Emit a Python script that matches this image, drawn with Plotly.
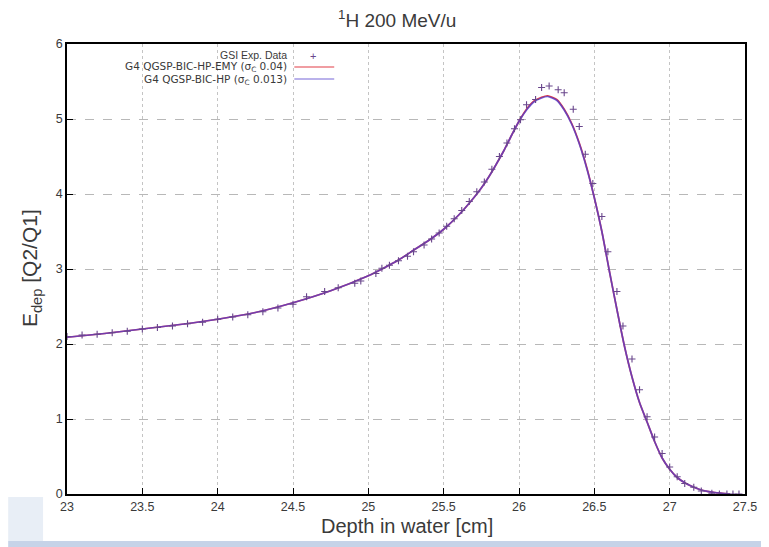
import plotly.graph_objects as go

# ---- data ----
exp_depth = [23.0, 23.1, 23.2, 23.3, 23.4, 23.5, 23.6, 23.7, 23.8, 23.9,
             24.0, 24.1, 24.2, 24.3, 24.4, 24.5, 24.59, 24.71, 24.80, 24.91,
             24.95, 25.05, 25.09, 25.14, 25.20, 25.26, 25.30, 25.37, 25.42, 25.47,
             25.52, 25.57, 25.62, 25.67, 25.72, 25.77, 25.82, 25.87, 25.92, 25.97,
             26.01, 26.05, 26.11, 26.15, 26.20, 26.26, 26.30, 26.36, 26.40, 26.44,
             26.49, 26.55, 26.59, 26.65, 26.69, 26.75, 26.80, 26.85, 26.90, 26.95,
             27.00, 27.05, 27.10, 27.16, 27.21, 27.28, 27.33, 27.38, 27.42, 27.46]
exp_edep = [2.10, 2.12, 2.13, 2.15, 2.17, 2.20, 2.22, 2.24, 2.27, 2.29,
            2.33, 2.36, 2.39, 2.43, 2.48, 2.53, 2.63, 2.70, 2.75, 2.81,
            2.84, 2.94, 3.01, 3.05, 3.11, 3.17, 3.23, 3.32, 3.40, 3.48,
            3.57, 3.67, 3.78, 3.90, 4.03, 4.16, 4.33, 4.50, 4.68, 4.87,
            4.99, 5.19, 5.26, 5.42, 5.44, 5.39, 5.35, 5.13, 4.90, 4.53,
            4.14, 3.70, 3.23, 2.70, 2.24, 1.80, 1.39, 1.03, 0.76, 0.54,
            0.36, 0.23, 0.14, 0.09, 0.04, 0.01, 0.0, 0.0, 0.0, 0.0]

sim_depth = [23.0, 23.25, 23.5, 23.75, 24.0, 24.25, 24.5, 24.75, 25.0, 25.1,
             25.2, 25.3, 25.4, 25.5, 25.6, 25.7, 25.75, 25.8, 25.85, 25.9,
             25.95, 26.0, 26.05, 26.1, 26.15, 26.19, 26.25, 26.3, 26.35, 26.4,
             26.45, 26.5, 26.55, 26.6, 26.65, 26.7, 26.75, 26.8, 26.85, 26.9,
             26.95, 27.0, 27.05, 27.1, 27.15, 27.2, 27.25, 27.3, 27.35, 27.4]
emy_edep = [2.09, 2.14, 2.20, 2.26, 2.33, 2.42, 2.55, 2.71, 2.91, 3.01,
            3.12, 3.25, 3.38, 3.53, 3.72, 3.95, 4.08, 4.23, 4.40, 4.58,
            4.78, 4.97, 5.13, 5.24, 5.29, 5.31, 5.26, 5.13, 4.94, 4.68,
            4.35, 3.95, 3.50, 2.97, 2.46, 1.97, 1.56, 1.22, 0.96, 0.70,
            0.48, 0.33, 0.22, 0.15, 0.10, 0.06, 0.035, 0.02, 0.01, 0.0]
hp_edep = [2.09, 2.14, 2.20, 2.26, 2.33, 2.42, 2.55, 2.71, 2.91, 3.01,
           3.12, 3.25, 3.38, 3.53, 3.72, 3.95, 4.08, 4.23, 4.40, 4.58,
           4.78, 4.97, 5.12, 5.23, 5.28, 5.30, 5.25, 5.12, 4.93, 4.67,
           4.34, 3.95, 3.50, 2.97, 2.46, 1.97, 1.56, 1.22, 0.96, 0.70,
           0.48, 0.33, 0.22, 0.15, 0.10, 0.06, 0.035, 0.02, 0.01, 0.0]

x_ticks = [23, 23.5, 24, 24.5, 25, 25.5, 26, 26.5, 27, 27.5]
x_tick_labels = ["23", "23.5", "24", "24.5", "25", "25.5", "26", "26.5", "27", "27.5"]
y_ticks = [0, 1, 2, 3, 4, 5, 6]
y_tick_labels = ["0", "1", "2", "3", "4", "5", "6"]

series_names = ["GSI Exp. Data",
                "G4 QGSP-BIC-HP-EMY (σ<sub>C</sub> 0.04)",
                "G4 QGSP-BIC-HP (σ<sub>C</sub> 0.013)"]

RED = "rgb(225,60,70)"
BLUE = "rgba(80,60,205,0.78)"
MARK = "rgb(105,70,140)"
FONT = "Liberation Sans, Arial, sans-serif"
LFONT = "DejaVu Sans, Liberation Sans, sans-serif"
TXT = "#3a3a3a"

fig = go.Figure()
fig.add_trace(go.Scatter(x=sim_depth, y=emy_edep, mode="lines", name=series_names[1],
                         line=dict(color=RED, width=1.7, shape="spline", smoothing=0.6)))
fig.add_trace(go.Scatter(x=sim_depth, y=hp_edep, mode="lines", name=series_names[2],
                         line=dict(color=BLUE, width=1.7, shape="spline", smoothing=0.6)))
fig.add_trace(go.Scatter(x=exp_depth, y=exp_edep, mode="markers", name=series_names[0],
                         marker=dict(symbol="cross-thin", size=5,
                                     line=dict(color=MARK, width=1.1), color=MARK)))

# page body has an 8px margin: figure drawn 8px in from the window's top-left
OFF = 8
WIN_W, WIN_H = 769, 547
W, H = WIN_W - OFF, WIN_H - OFF
# plot frame in window pixels: x 67..747, y 44..494
L, R, T, B = 67 - OFF, WIN_W - 747, 44 - OFF, WIN_H - 494
pw, ph = W - L - R, H - T - B

def px(xwin):
    return (xwin - OFF - L) / pw

def py(ywin):
    return (H - B - (ywin - OFF)) / ph

def note(text, x, y, size, family=FONT, color=TXT, xanchor="center", angle=0):
    return dict(text=text, x=px(x), y=py(y), xref="paper", yref="paper",
                xanchor=xanchor, yanchor="middle", showarrow=False, textangle=angle,
                font=dict(size=size, color=color, family=family))

annotations = [
    note("<sup>1</sup>H 200 MeV/u", 398, 19, 19),
    note("Depth in water [cm]", 408, 526, 20),
    note("E<sub>dep</sub> [Q2/Q1]", 31, 268, 21, angle=-90),
    # legend (gnuplot style: right-aligned text, sample on the right)
    note(series_names[0], 290, 55, 10.5, xanchor="right"),
    note(series_names[1], 290, 67, 10.5, family=LFONT, xanchor="right"),
    note(series_names[2], 290, 79.5, 10.5, family=LFONT, xanchor="right"),
    note("+", 314, 56, 11, color=MARK),
]
shapes = [
    dict(type="line", xref="paper", yref="paper", x0=px(295), x1=px(335),
         y0=py(67), y1=py(67), line=dict(color=RED, width=1.2)),
    dict(type="line", xref="paper", yref="paper", x0=px(295), x1=px(335),
         y0=py(79), y1=py(79), line=dict(color=BLUE, width=1.2)),
    # slide background bits at the bottom
    dict(type="rect", xref="paper", yref="paper", x0=px(OFF), x1=px(WIN_W), y0=py(WIN_H), y1=py(541),
         line=dict(width=0), fillcolor="#c6d3e8", layer="below"),
    dict(type="rect", xref="paper", yref="paper", x0=px(OFF), x1=px(43), y0=py(541), y1=py(497),
         line=dict(width=0), fillcolor="#e8eef6", layer="below"),
]

fig.update_layout(
    width=W, height=H,
    margin=dict(l=L, r=R, t=T, b=B),
    paper_bgcolor="white", plot_bgcolor="white",
    showlegend=False,
    font=dict(family=FONT, size=12, color=TXT),
    annotations=annotations, shapes=shapes,
)
fig.update_xaxes(range=[23, 27.5], tickvals=x_ticks, ticktext=x_tick_labels,
                 showline=True, linecolor="black", linewidth=1.5, mirror=True,
                 ticks="inside", ticklen=6, tickcolor="black",
                 showgrid=True, gridcolor="#c4c4c4", gridwidth=1, griddash="dot",
                 zeroline=False, tickfont=dict(size=12.5, color=TXT))
fig.update_yaxes(range=[0, 6], tickvals=y_ticks, ticktext=y_tick_labels,
                 showline=True, linecolor="black", linewidth=1.5, mirror=True,
                 ticks="inside", ticklen=6, tickcolor="black",
                 showgrid=True, gridcolor="#b8b8b8", gridwidth=1, griddash="dash",
                 zeroline=False, tickfont=dict(size=12.5, color=TXT))

fig.write_html("out.html")
